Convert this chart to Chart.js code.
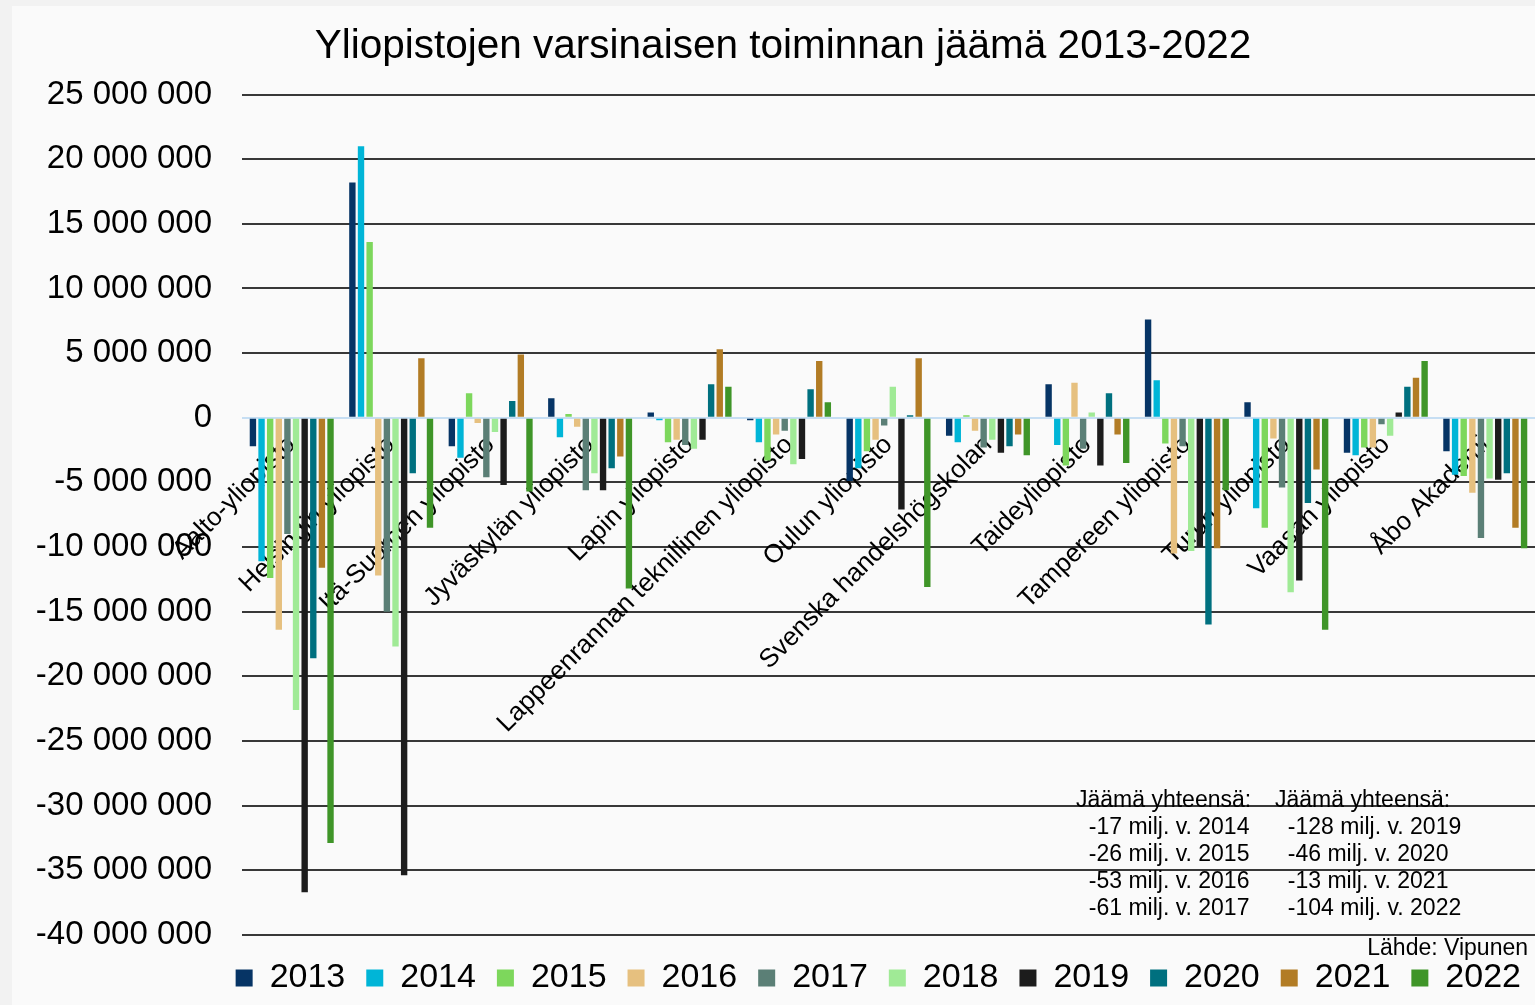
<!DOCTYPE html>
<html lang="fi">
<head>
<meta charset="utf-8">
<title>Yliopistojen varsinaisen toiminnan jäämä 2013-2022</title>
<script src="https://cdn.jsdelivr.net/npm/chart.js@4.4.1/dist/chart.umd.min.js"></script>
<style>
  html, body { margin: 0; padding: 0; background: #f2f2f2; overflow: hidden; }
  #wrap { position: absolute; left: 12px; top: 6px; width: 1523px; height: 999px; background: #fafafa; }
</style>
</head>
<body>
<div id="wrap"><canvas id="chart"></canvas></div>
<script>
// Universities (categories)
const universities = [
  'Aalto-yliopisto', 'Helsingin yliopisto', 'Itä-Suomen yliopisto', 'Jyväskylän yliopisto',
  'Lapin yliopisto', 'Lappeenrannan teknillinen yliopisto', 'Oulun yliopisto',
  'Svenska handelshögskolan', 'Taideyliopisto', 'Tampereen yliopisto', 'Turun yliopisto',
  'Vaasan yliopisto', 'Åbo Akademi'
];

const years = ['2013', '2014', '2015', '2016', '2017', '2018', '2019', '2020', '2021', '2022'];

// Jäämä per year, euros (same order as universities)
const v2013 = [-2200000, 18200000, -2200000, 1500000, 400000, -200000, -4900000, -1400000, 2600000, 7600000, 1200000, -2700000, -2600000];
const v2014 = [-11100000, 21000000, -3100000, -1500000, -200000, -1900000, -3900000, -1900000, -2100000, 2900000, -7000000, -2900000, -4400000];
const v2015 = [-12400000, 13600000, 1900000, 300000, -1900000, -3300000, -2600000, 200000, -3700000, -2000000, -8500000, -2300000, -4500000];
const v2016 = [-16400000, -12200000, -400000, -700000, -1700000, -1300000, -1700000, -1000000, 2700000, -10500000, -1600000, -2300000, -5800000];
const v2017 = [-9000000, -15000000, -4600000, -5600000, -2100000, -1000000, -600000, -2300000, -2400000, -2200000, -5400000, -500000, -9300000];
const v2018 = [-22600000, -17700000, -1100000, -4300000, -2400000, -3600000, 2400000, -1700000, 400000, -10300000, -13500000, -1400000, -4700000];
const v2019 = [-36700000, -35400000, -5200000, -5600000, -1700000, -3200000, -7100000, -2700000, -3700000, -10000000, -12600000, 400000, -4800000];
const v2020 = [-18600000, -4300000, 1300000, -3900000, 2600000, 2200000, 200000, -2200000, 1900000, -16000000, -6600000, 2400000, -4300000];
const v2021 = [-11600000, 4600000, 4900000, -3000000, 5300000, 4400000, 4600000, -1300000, -1300000, -10100000, -4000000, 3100000, -8500000];
const v2022 = [-32900000, -8500000, -5700000, -13200000, 2400000, 1200000, -13100000, -2900000, -3500000, -5600000, -16400000, 4400000, -10100000];

const yearValues = [v2013, v2014, v2015, v2016, v2017, v2018, v2019, v2020, v2021, v2022];
const colors = ['#063465', '#00b5d7', '#7dd75c', '#e6c07f', '#5b7f76', '#a0ea96', '#1c1c1c', '#00707f', '#b27c25', '#3f9528'];

const yTickMin = -40000000;
const yTickMax = 25000000;
const yTickStep = 5000000;

// Totals printed in the lower right corner
const totalsLeft = ['Jäämä yhteensä:', '  -17 milj. v. 2014', '  -26 milj. v. 2015', '  -53 milj. v. 2016', '  -61 milj. v. 2017'];
const totalsRight = ['Jäämä yhteensä:', '  -128 milj. v. 2019', '  -46 milj. v. 2020', '  -13 milj. v. 2021', '  -104 milj. v. 2022'];
const sourceText = 'Lähde: Vipunen';

const FONT = "'Liberation Sans', Arial, sans-serif";
Chart.defaults.font.family = FONT;
Chart.defaults.color = '#000';

function formatNumber(v) {
  const s = Math.abs(v).toString().replace(/\B(?=(\d{3})+(?!\d))/g, ' ');
  return (v < 0 ? '-' : '') + s;
}

// Draws the total notes and the source line
const notesPlugin = {
  id: 'notes',
  afterDraw(chart) {
    const ctx = chart.ctx;
    ctx.save();
    ctx.font = '23px ' + FONT;
    ctx.fillStyle = '#000';
    ctx.textBaseline = 'middle';
    ctx.textAlign = 'left';
    totalsLeft.forEach((t, i) => ctx.fillText(t, 1064, 795 + i * 26.8));
    totalsRight.forEach((t, i) => ctx.fillText(t, 1263, 795 + i * 26.8));
    ctx.textAlign = 'right';
    ctx.fillText(sourceText, 1516, 943);
    ctx.restore();
  }
};

const datasets = years.map((y, i) => ({
  label: y,
  data: yearValues[i],
  backgroundColor: colors[i],
  borderWidth: 0,
  barPercentage: 0.74,
  categoryPercentage: 0.867
}));

new Chart(document.getElementById('chart'), {
  type: 'bar',
  data: { labels: universities, datasets: datasets },
  options: {
    responsive: true,
    maintainAspectRatio: false,
    animation: false,
    layout: { padding: { left: 12, right: -7, top: 0, bottom: 0 } },
    plugins: {
      title: {
        display: true,
        text: 'Yliopistojen varsinaisen toiminnan jäämä 2013-2022',
        color: '#000',
        font: { size: 40.5, weight: 'normal' },
        padding: { top: 17, bottom: 23 }
      },
      legend: {
        position: 'bottom',
        align: 'end',
        title: { display: true, text: '', font: { size: 1 }, padding: { top: 4, bottom: 0 } },
        labels: {
          boxWidth: 17,
          boxHeight: 17,
          padding: 21,
          color: '#000',
          font: { size: 34 }
        }
      },
      tooltip: { enabled: false }
    },
    scales: {
      x: {
        position: { y: 0 },
        grid: { display: false },
        border: { display: false },
        ticks: {
          autoSkip: false,
          minRotation: 45,
          maxRotation: 45,
          padding: 4,
          color: '#000',
          font: { size: 26 }
        },
        afterFit(scale) { scale.height = 0; }
      },
      y: {
        min: yTickMin,
        max: yTickMax,
        border: { display: false },
        grid: {
          drawTicks: false,
          color: (c) => (c.tick && c.tick.value === 0 ? '#c6def3' : '#383838'),
          lineWidth: 2
        },
        ticks: {
          stepSize: yTickStep,
          padding: 30,
          color: '#000',
          font: { size: 33 },
          callback: (v) => formatNumber(v)
        },
        afterFit(scale) { scale.width = 218; }
      }
    }
  },
  plugins: [notesPlugin]
});
</script>
</body>
</html>
